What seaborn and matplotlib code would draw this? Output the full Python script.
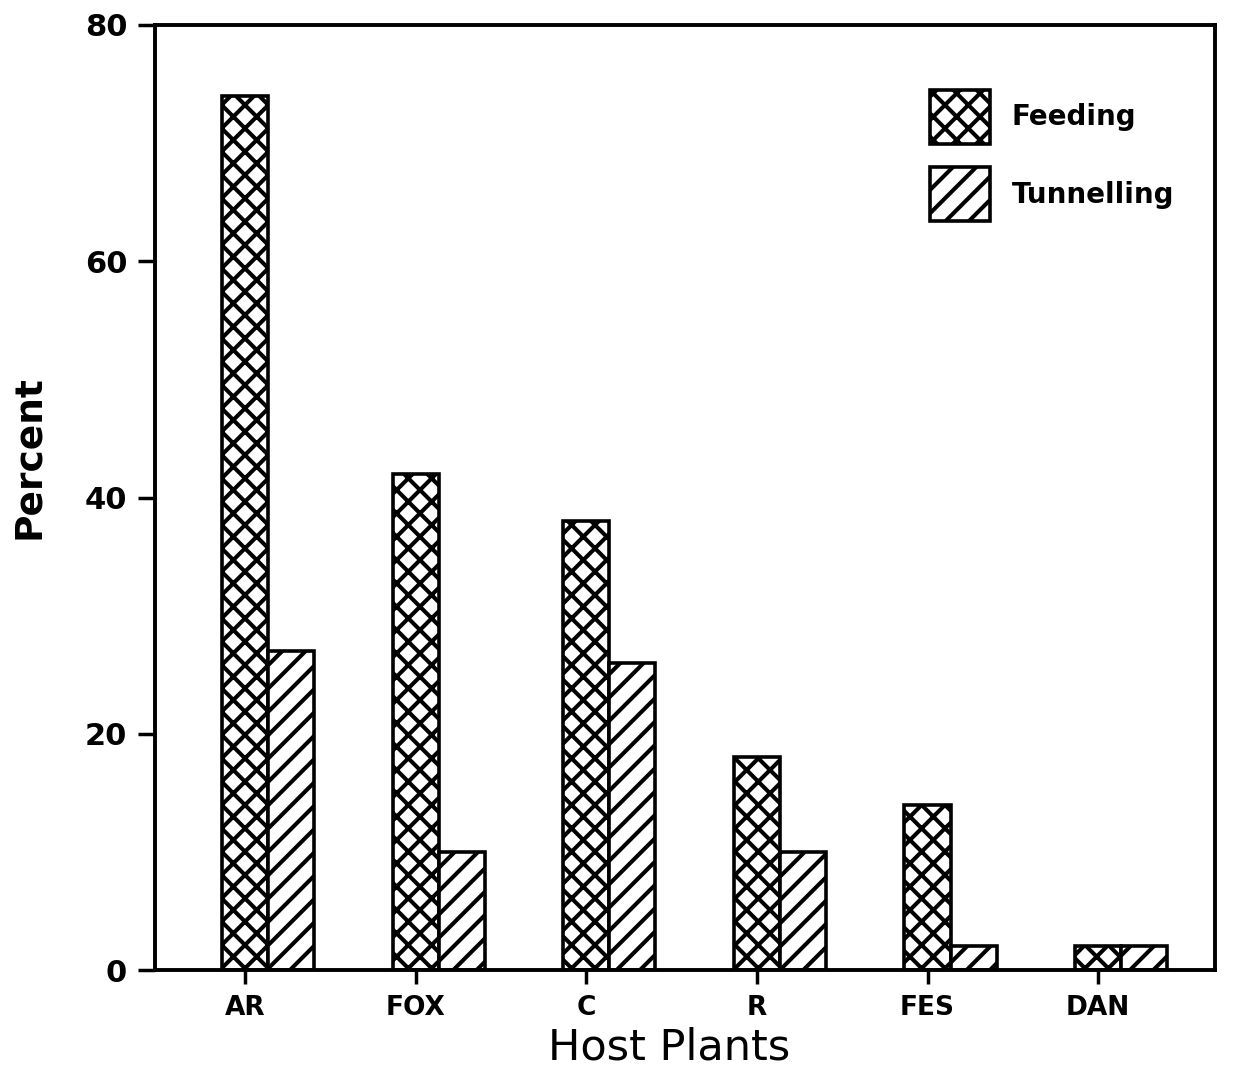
import numpy as np
import pandas as pd
import matplotlib
matplotlib.use("Agg")
import matplotlib.pyplot as plt
import seaborn as sns
from matplotlib.patches import Patch

categories = ["AR", "FOX", "C", "R", "FES", "DAN"]
feeding = [74, 42, 38, 18, 14, 2]
tunnelling = [27, 10, 26, 10, 2, 2]
series_names = ["Feeding", "Tunnelling"]
yticks = [0, 20, 40, 60, 80]

df = pd.DataFrame({
    "Host": categories * 2,
    "Percent": feeding + tunnelling,
    "Activity": [series_names[0]] * len(categories) + [series_names[1]] * len(categories),
})

DPI = 140
S = 100 / DPI  # scale point sizes so pixel sizes match a 100-dpi layout

sns.set_theme(style="ticks")
plt.rcParams["font.family"] = ["DejaVu Sans"]
plt.rcParams["hatch.linewidth"] = 2.1
plt.rcParams["hatch.color"] = "black"
plt.rcParams["text.color"] = "black"
plt.rcParams["axes.labelcolor"] = "black"
plt.rcParams["xtick.color"] = "black"
plt.rcParams["ytick.color"] = "black"

fig = plt.figure(figsize=(1235 / DPI, 1074 / DPI), dpi=DPI)
ax = fig.add_axes([155 / 1235, 1 - 970 / 1074, (1215 - 155) / 1235, (970 - 25) / 1074])

bar_w = 0.54
sns.barplot(data=df, x="Host", y="Percent", hue="Activity", order=categories,
            hue_order=series_names, palette=["white", "white"], width=bar_w,
            edgecolor="black", linewidth=2.6 * S, ax=ax, legend=False, dodge=True)

hatches = ["xx", "//"]
for cont, h in zip(ax.containers, hatches):
    for p in cont.patches:
        p.set_hatch(h)
        p.set_facecolor("white")
        p.set_edgecolor("black")

ax.set_ylim(0, 80)
ax.set_xlim(-0.663, 5.55)
ax.set_yticks(yticks)
ax.set_yticklabels([str(v) for v in yticks], fontsize=22 * S, fontweight="bold")
ax.set_xticks(np.arange(len(categories)) - bar_w / 4)
ax.set_xticklabels(categories, fontsize=19 * S, fontweight="bold")
ax.tick_params(axis="y", direction="out", length=12 * S, width=2.5 * S, pad=8 * S)
ax.tick_params(axis="x", direction="out", length=10 * S, width=2.5 * S, pad=8 * S)
for s in ax.spines.values():
    s.set_visible(True)
    s.set_linewidth(2.8 * S)
    s.set_color("black")

ax.set_xlabel("Host Plants", fontsize=31 * S)
ax.xaxis.set_label_coords((669 - 155) / 1060, -(1026 - 970) / 945)
ax.set_ylabel("Percent", fontsize=27 * S, fontweight="bold")
ax.yaxis.set_label_coords(-(155 - 47) / 1060, (970 - 457) / 945)

handles = [Patch(facecolor="white", edgecolor="black", hatch=h, linewidth=2.6 * S) for h in hatches]
ax.legend(handles, series_names, loc="upper left",
          bbox_to_anchor=((930 - 155) / 1060, (970 - 90) / 945),
          frameon=False, borderpad=0, borderaxespad=0,
          handlelength=2.15, handleheight=2.6, labelspacing=0.85,
          handletextpad=0.8, prop={"size": 20 * S, "weight": "bold"})

fig.savefig("out.png", dpi=DPI, facecolor="white")
